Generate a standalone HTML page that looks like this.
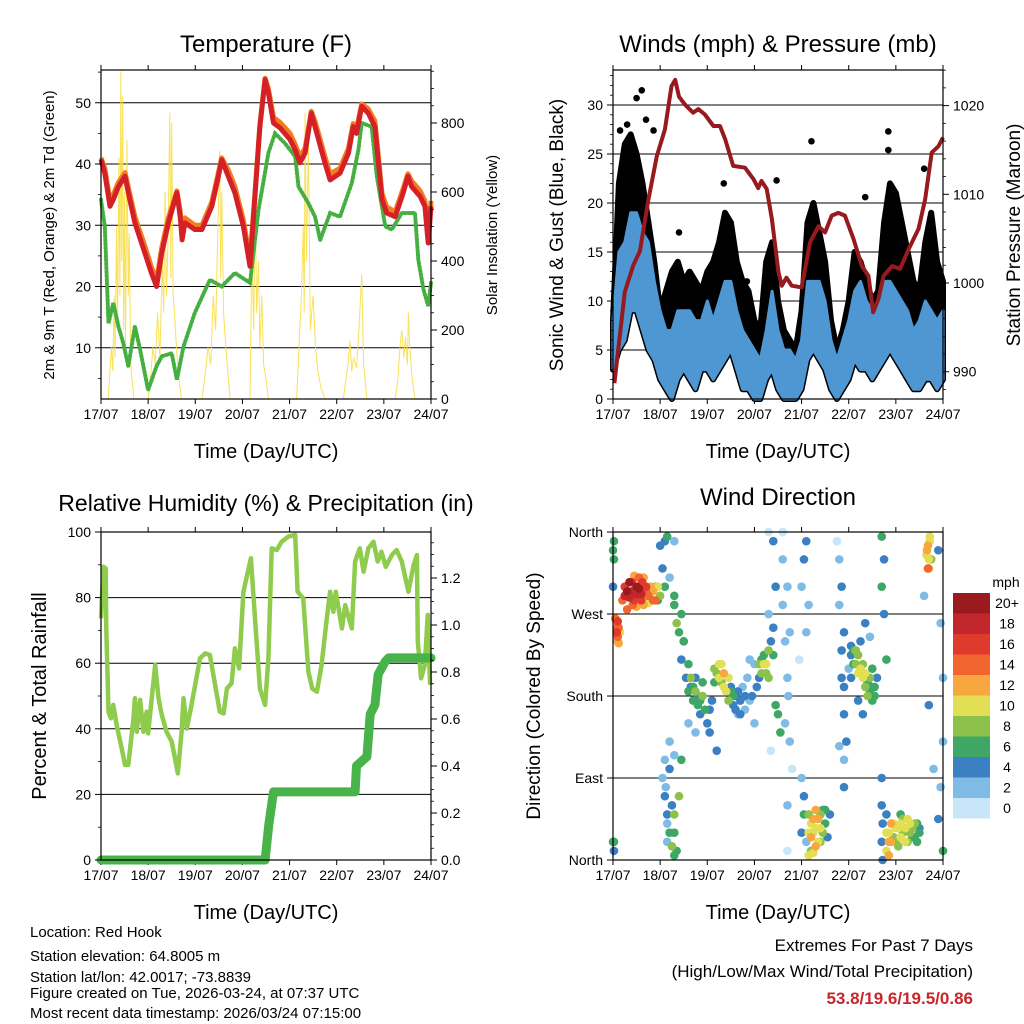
<!DOCTYPE html>
<html><head><meta charset="utf-8"><style>
html,body{margin:0;padding:0;background:#fff;}
svg{display:block;font-family:"Liberation Sans",sans-serif;}
</style></head><body>
<svg id="root" width="1024" height="1024" viewBox="0 0 1024 1024" xmlns="http://www.w3.org/2000/svg">
<rect x="0" y="0" width="1024" height="1024" fill="#fff"/>
<g id="g1"></g>
<g id="g2"></g>
<g id="g3"></g>
<g id="g4"></g>
<g id="info">
<text x="30" y="937" font-size="15">Location: Red Hook</text>
<text x="30" y="961" font-size="15">Station elevation: 64.8005 m</text>
<text x="30" y="982" font-size="15">Station lat/lon: 42.0017; -73.8839</text>
<text x="30" y="998" font-size="15">Figure created on Tue, 2026-03-24, at 07:37 UTC</text>
<text x="30" y="1018" font-size="15">Most recent data timestamp: 2026/03/24 07:15:00</text>
</g>
<g id="extremes">
<text x="973" y="951" font-size="17" text-anchor="end">Extremes For Past 7 Days</text>
<text x="973" y="977" font-size="17" text-anchor="end">(High/Low/Max Wind/Total Precipitation)</text>
<text x="973" y="1004" font-size="17" font-weight="bold" fill="#c9252b" text-anchor="end">53.8/19.6/19.5/0.86</text>
</g>
</svg>
<script>
// ---------- data ----------
const dayLabels = ["17/07","18/07","19/07","20/07","21/07","22/07","23/07","24/07"];
const tempT = [0,.08,.19,.26,.37,.51,.58,.72,.93,1.07,1.18,1.29,1.43,1.61,1.68,1.72,1.78,1.99,2.14,2.35,2.49,2.56,2.7,2.84,3.02,3.16,3.27,3.37,3.48,3.55,3.66,3.8,4.01,4.12,4.22,4.33,4.46,4.54,4.75,4.86,5.07,5.25,5.35,5.42,5.53,5.67,5.81,5.96,6.06,6.24,6.41,6.51,6.59,6.77,6.87,6.94,7];
const temp2m = [40.7,38.5,33.1,34.2,36.3,38,35.3,30.4,25.5,22.2,20,25.5,30.4,35.3,31.4,27.6,30.4,29.3,29.3,33.1,38,40.7,38,35.3,29.8,23.3,35.3,46.1,53.8,51.6,46.7,45.9,44,42.3,40.2,41.8,48.3,46.1,40.2,37.4,38.5,41.8,46.1,45,49.4,48.3,46.1,34.2,32,31.4,35.3,38,36.3,34.7,33.1,27.1,33.1];
const temp9m = [41,39.3,34,35,37,38.6,36.2,31.4,26.6,23.2,21,26.4,31.2,35.6,32.4,28.6,31.2,30,30,33.8,38.6,41,39,36.3,30.8,24.3,35.8,46.5,54,52.3,47.6,46.8,45,43.2,41.2,42.6,48.6,47,41.2,38.4,39.3,42.6,46.6,45.8,49.8,49,47,35.2,33,32.2,36,38.4,37.2,35.6,34,28.2,34];
const tdT = [0,.08,.16,.26,.37,.47,.58,.72,.83,1,1.18,1.29,1.5,1.61,1.75,1.99,2.31,2.56,2.84,3.16,3.34,3.55,3.69,3.9,4.12,4.19,4.4,4.54,4.65,4.86,5.07,5.32,5.46,5.53,5.74,5.85,6.03,6.17,6.38,6.66,6.73,6.84,6.94,7];
const tdV = [34.2,29.8,14,17.3,13.5,10.8,7,13.5,9.7,3.1,7,8.6,9.1,4.8,10.2,15.7,21.1,20,22.2,20.6,32.5,41.8,45,43.4,41.2,36.3,33.6,31.4,27.6,32,31.4,36.9,42.3,46.7,46.1,38,29.8,29.3,32,32,24.4,19.5,16.8,20.6];
const solT = [0,.15,.18,.22,.25,.28,.3,.33,.35,.38,.4,.42,.44,.46,.48,.5,.52,.55,.58,.6,.63,.67,.7,
 1.0,1.05,1.1,1.15,1.2,1.25,1.3,1.33,1.36,1.39,1.42,1.46,1.48,1.5,1.53,1.56,1.6,1.65,1.71,
 2.14,2.2,2.27,2.33,2.38,2.43,2.48,2.52,2.54,2.56,2.6,2.65,2.7,2.74,
 3.16,3.2,3.24,3.27,3.3,3.34,3.37,3.41,3.45,3.5,3.55,
 4.15,4.2,4.25,4.29,4.31,4.33,4.36,4.4,4.44,4.5,4.55,4.6,4.67,4.75,
 5.14,5.2,5.24,5.28,5.32,5.36,5.42,5.47,5.53,5.57,5.64,
 6.24,6.3,6.34,6.38,6.42,6.46,6.5,6.52,6.55,6.6,6.66,7];
const solV = [0,0,60,150,80,300,120,500,200,700,300,950,400,880,200,600,150,750,300,480,100,40,0,
 0,60,150,100,250,120,400,250,600,300,450,830,350,800,300,250,150,60,0,
 0,60,150,100,300,200,500,720,350,600,250,150,60,0,
 0,450,200,600,250,400,150,300,100,60,0,
 0,150,300,500,250,830,400,750,200,300,150,80,30,0,
 0,60,100,170,80,120,90,200,360,100,0,
 0,60,150,200,120,180,100,250,150,60,0,0];
const windT = [0,.125,.25,.375,.5,.625,.75,.875,1,1.125,1.25,1.375,1.5,1.625,1.75,1.875,2,2.125,2.25,2.375,2.5,2.625,2.75,2.875,3,3.125,3.25,3.375,3.5,3.625,3.75,3.875,4,4.125,4.25,4.375,4.5,4.625,4.75,4.875,5,5.125,5.25,5.375,5.5,5.625,5.75,5.875,6,6.125,6.25,6.375,6.5,6.625,6.75,6.875,7];
const sonicLow = [3,5,6,9,9,7,5,4,2,1,0,2,3,2,1,3,3,2,3,4,5,3,1,1,0,0,2,3,1,0,0,0,1,4,5,4,3,1,0,1,2,4,3,3,2,3,4,5,4,3,2,1,1,2,2,1,2];
const sonicHigh = [8,15,16,19,19,17,16,12,9,7,7,9,9,9,8,8,10,8,10,12,12,9,7,6,5,4,7,11,7,5,5,4,6,12,12,12,10,6,4,6,8,11,12,10,9,10,12,12,11,10,9,7,8,10,9,8,9];
const gustHigh = [8,22,26,27,25,22,18,14,9,11,13,14,12,13,12,11,13,14,16,19,18,14,12,11,8,7,14,16,10,7,6,5,9,18,20,17,14,8,5,7,10,15,14,12,10,11,18,22,21,18,15,12,11,16,19,14,12];
const gustOutT = [.61,.5,.15,.86,4.21,5.84,5.84,3.47,5.35,1.4,2.84,.3,.7,2.35,6.6];
const gustOutV = [31.5,30.7,27.4,27.4,26.3,27.3,25.4,22.3,20.6,17,12,28,28.5,22,23.5];
const presT = [.03,.25,.43,.57,.75,.93,1.1,1.24,1.32,1.4,1.53,1.7,1.81,1.95,2.13,2.27,2.38,2.55,2.8,2.98,3.08,3.15,3.26,3.37,3.51,3.58,3.68,3.79,4,4.18,4.36,4.5,4.64,4.78,4.92,5.1,5.28,5.42,5.52,5.63,5.74,5.92,6.09,6.27,6.48,6.62,6.76,6.9,7];
const presV = [988.7,999,1002,1003.6,1009.4,1014.3,1017.3,1022.2,1022.9,1021,1020.1,1019.2,1019.6,1019,1017.7,1017.7,1016.2,1013.2,1013,1011.7,1010.7,1011.5,1010.6,1007.2,1001.2,999.7,1000.6,999.7,999.5,1004.6,1006.4,1005.7,1007.6,1007.9,1007.6,1005,1001.9,1000.8,996.7,998.2,1000.8,1001.9,1001.6,1003.8,1006.1,1009.4,1014.7,1015.4,1016.4];
const rhT = [0,.05,.1,.11,.16,.21,.26,.33,.44,.51,.58,.69,.72,.76,.83,.9,.97,1,1.07,1.15,1.22,1.29,1.39,1.5,1.57,1.63,1.71,1.75,1.82,1.92,2.1,2.21,2.31,2.42,2.52,2.6,2.67,2.77,2.84,2.93,3.02,3.13,3.18,3.27,3.37,3.48,3.55,3.62,3.73,3.83,3.97,4.12,4.17,4.29,4.4,4.48,4.58,4.68,4.79,4.86,4.93,4.98,5.11,5.18,5.32,5.39,5.49,5.57,5.67,5.78,5.87,5.95,6.04,6.17,6.27,6.38,6.52,6.63,6.7,6.72,6.79,6.87,6.93,6.98];
const rhV = [73.7,89.4,88.9,71.6,45.2,43.2,47.3,41.2,34,29,29,43.2,49.3,39.1,48.8,39.1,45.2,38.6,48.3,59.5,49.3,44.2,39.1,36.1,31,26.4,39.1,49.3,40.1,47.3,61.5,63,62.5,53.4,45.2,44.7,52.3,53.9,64.5,58.4,81.8,88.9,92,72.7,52.3,47.3,61.5,95,94.5,97,98.6,99.1,81.8,79.8,57.4,52.3,51.3,59.5,73.7,81.8,75.7,81.8,70.6,77.7,70.6,91,95,87.9,95,97,91,94,89.4,93,94.5,91,81.8,89.9,93,66.6,55.4,59.5,74.7,53.4];
const prT = [0,3.48,3.56,3.66,5.39,5.42,5.64,5.71,5.81,5.88,6.03,6.1,7];
const prV = [0,0,.15,.29,.29,.4,.44,.62,.66,.79,.845,.86,.86];
const dirT = [.25,.3,.35,.4,.45,.5,.55,.6,.65,.7,.75,.85,.9,.95,1,.3,.5,.2,.45,.62,
 .08,.1,.12,.15,.05,.1, 0,0,.02,.02,.02,
 1,1.05,1.1,1.1,1.15,1.2,1.3,1.3,1.45,1.5,1.1,1.12,1.15,1.2,1.25,1.3,1.35,1.4,1.45,1.2,1.15,1.3,
 1.55,1.6,1.65,1.7,1.75,1.8,1.85,1.9,1.95,2,2.05,2.1,2.15,2.2,2.25,2.3,2.35,2.4,2.45,2.5,2.55,2.6,2.65,2.7,2.75,2.8,2.85,2.9,2.95,3,3.05,3.1,3.15,3.2,3.25,3.3,3.35,3.4,3.45,3.5,3.55,3,2.2,1.6,1.75,
 3.6,3.6,3.65,3.7,3.72,3.75,3.8,3.7,3.7,3.4,3.45,3.3,3.3,3.35,
 4.1,4.15,4.2,4.25,4.3,4.35,4.4,4.45,4.5,4.55,4.6,4.2,4.3,4.4,4.05,4,4.05,4.1,4.15,3.95,4.1,
 4.75,4.8,4.85,4.9,4.85,4.9,4.9,4.95,4.9,
 5,5.05,5.1,5.15,5.2,5.25,5.3,5.35,5.4,5.45,5.5,5.55,5.6,5.25,5.35,5.45,5.2,5.3,
 5.7,5.72,5.7,5.72,5.7,5.75,5.7,
 5.8,5.85,5.9,5.95,6,6.05,6.1,6.15,6.2,6.25,6.3,6.35,6.4,6.45,6.5,5.85,6.1,
 6.65,6.68,6.7,6.72,6.75,6.6,6.7,6.8,6.9,6.95,7,7,6.95,6.9,7,
 .3,.35,.4,.5,.55,.6,.7,.8,.85,.42,.25,.65,.75,.9,.95,.08,.12,.1,
 1.6,1.65,1.7,1.75,1.8,1.85,1.9,2.05,2.15,2.25,2.3,2.35,2.45,2.5,2.55,2.6,2.65,2.7,2.8,2.9,3.1,3.15,3.2,3.25,3.3,3.4,1.5,1.45,1.4,1.35,1.3,
 1.05,1.1,1.15,1.2,1.25,1.3,1.3,
 4.15,4.2,4.25,4.3,4.35,4.4,4.45,4.15,4.25,4.5,4.05,4,4,
 5.1,5.15,5.2,5.3,5.35,5.4,5.45,5.5,5.55,5.05,5.05,5.5,
 5.85,5.9,5.95,6,6.05,6.1,6.15,6.2,6.25,6.3,6.35,6.4,6.45,6.5,5.8,5.8,
 6.66,6.7,6.68,6.72,
 3.75,3.7,3.65,4.8,4.85,4.9,4.8,5.7,5.75,5.8,3.6,.02,0];
const dirDeg = [300,290,305,295,285,300,310,292,280,300,290,295,285,300,290,275,278,285,312,305,
 255,245,238,250,265,262, 340,300,20,10,330,
 345,320,350,300,355,310,290,350,270,240,110,80,40,100,60,30,10,70,110,130,20,115,
 200,215,190,175,200,170,160,180,165,150,140,175,195,205,215,195,205,185,175,190,170,180,160,175,190,165,200,220,180,150,190,200,220,215,205,230,240,255,170,160,140,215,120,150,140,
 330,280,240,200,180,130,100,60,10,350,300,360,270,120,
 20,50,40,30,15,45,35,55,40,25,50,10,55,20,70,300,330,350,280,220,250,
 350,330,300,250,200,160,110,130,80,
 210,225,230,215,225,210,200,190,195,185,175,190,200,240,260,245,175,160,
 60,40,20,0,300,330,355,
 30,20,40,25,35,15,40,30,20,45,30,25,40,20,35,5,50,
 335,345,320,350,330,290,170,100,340,260,200,130,80,45,10,
 295,288,305,292,298,285,295,300,285,280,290,310,282,300,285,250,255,240,
 185,200,190,185,180,175,195,165,210,200,215,190,200,185,180,165,185,160,180,175,215,205,225,215,200,225,240,220,250,260,280,
 90,70,50,30,15,50,5,
 30,25,45,35,20,50,30,5,8,55,50,30,90,
 215,230,205,215,205,180,200,190,180,200,235,210,
 30,20,40,20,35,25,45,35,20,40,35,25,40,30,10,50,
 340,330,320,355,
 250,300,150,280,230,190,125,90,270,220,360,350,20];
const dirSpd = [16,18,20,18,16,20,14,18,12,16,14,12,14,10,8,14,12,14,12,16,
 14,14,12,10,14,16, 6,4,6,4,6,
 4,4,4,6,6,2,6,2,6,6,2,2,2,4,4,6,6,8,6,2,2,2,
 4,6,4,6,4,6,4,8,6,4,4,4,6,8,10,8,12,10,8,4,4,4,2,4,2,2,2,2,4,2,4,4,6,10,8,8,4,4,6,6,6,2,4,2,2,
 2,2,2,2,2,2,0,2,0,4,4,0,2,0,
 2,8,10,10,12,12,10,6,6,4,4,8,12,8,4,2,4,4,2,0,2,
 0,2,4,4,4,4,2,4,4,
 2,4,6,8,8,10,10,8,6,6,6,6,4,4,4,2,4,4,
 4,4,4,4,6,4,6,
 10,12,12,8,10,8,10,8,10,10,8,6,8,6,4,12,6,
 10,12,12,10,8,2,4,2,4,2,2,2,2,4,6,
 20,18,16,18,20,16,14,12,14,14,18,12,10,8,6,16,14,12,
 6,8,6,8,4,6,6,4,8,10,10,10,10,6,6,4,4,4,4,2,8,8,6,10,8,6,4,4,6,8,6,
 2,4,4,6,8,8,6,
 10,12,12,10,10,8,8,10,10,6,6,4,2,
 6,8,10,8,10,8,8,6,6,4,4,6,
 10,12,10,8,10,10,8,10,8,10,8,6,6,6,10,4,
 12,10,14,10,
 2,2,2,2,4,4,2,4,4,6,0,6,6];
const legendLabels = ["20+","18","16","14","12","10","8","6","4","2","0"];
const legendColors = ["#9b1a1e","#c2272d","#e03a2d","#f0662e","#f7a640","#e3df55","#8cc24b","#3fa766","#3b80c2","#80bbe6","#c8e6f7"];

// ---------- helpers ----------
const NS = "http://www.w3.org/2000/svg";
function mk(tag, attrs, parent){const e=document.createElementNS(NS,tag);for(const k in attrs)e.setAttribute(k,attrs[k]);parent.appendChild(e);return e;}
function txt(parent,x,y,s,size,anchor,extra){const t=mk('text',Object.assign({x:x,y:y,'font-size':size,'text-anchor':anchor||'start'},extra||{}),parent);t.textContent=s;return t;}
function poly(xs,ys){return xs.map((v,i)=>v.toFixed(1)+','+ys[i].toFixed(1)).join(' ');}
function spdColor(s){let i=Math.round(s/2);if(i>10)i=10;if(i<0)i=0;return legendColors[10-i];}

function frame(g,x0,y0,x1,y1,prefix){
  const xs=d=>x0+d*(x1-x0)/7;
  for(let i=0;i<8;i++){
    const t1=mk('line',{x1:xs(i),y1:y1,x2:xs(i),y2:y1+5,stroke:'#000','stroke-width':1},g);
    
    
    const t2=mk('line',{x1:xs(i),y1:y0,x2:xs(i),y2:y0-5,stroke:'#000','stroke-width':1},g);
    
    
    const l=txt(g,xs(i),y1+20,dayLabels[i],14,'middle');
    
    
  }
  const xl=txt(g,(x0+x1)/2,y1+59,'Time (Day/UTC)',20,'middle');
  
  
  return xs;
}
function border(g,x0,y0,x1,y1){
  const b=mk('rect',{x:x0,y:y0,width:x1-x0,height:y1-y0,fill:'none',stroke:'#000','stroke-width':1.2},g);
  
  
}
function yTicks(g,side,x,vals,yf,labels,minorVals){
  const dir=side==='left'?-1:1;
  vals.forEach((v,i)=>{
    const t=mk('line',{x1:x,y1:yf(v),x2:x+dir*6,y2:yf(v),stroke:'#000','stroke-width':1},g);
    
    
    const l=txt(g,x+dir*10,yf(v)+5,labels[i],14,side==='left'?'end':'start');
    
    
  });
  (minorVals||[]).forEach(v=>{
    const t=mk('line',{x1:x,y1:yf(v),x2:x+dir*3,y2:yf(v),stroke:'#000','stroke-width':0.8},g);
    
    
  });
}
function hGrid(g,x0,x1,vals,yf){
  vals.forEach(v=>{
    const l=mk('line',{x1:x0,y1:yf(v),x2:x1,y2:yf(v),stroke:'#000','stroke-width':1},g);
    
    
  });
}
function range(a,b,s){const r=[];for(let v=a;v<=b+1e-9;v+=s)r.push(+v.toFixed(4));return r;}

// ---------- Panel 1 ----------
(function(){
  const g=document.getElementById('g1');
  const x0=101,x1=431,y0=70,y1=399;
  const yT=v=>409-v*6.125, yS=v=>399-v*0.345;
  const xs=frame(g,x0,y0,x1,y1,'temperature');
  const t=txt(g,266,52,'Temperature (F)',24,'middle');
  
  
  hGrid(g,x0,x1,[10,20,30,40,50],yT);
  const sol=mk('polyline',{points:poly(solT.map(xs),solV.map(yS)),fill:'none',stroke:'#f8dc3c','stroke-width':1,'stroke-opacity':0.85},g);
  
  
  const td=mk('polyline',{points:poly(tdT.map(xs),tdV.map(yT)),fill:'none',stroke:'#45b041','stroke-width':4,'stroke-dasharray':'1.5,2.5','stroke-linecap':'round'},g);
  
  
  const o=mk('polyline',{points:poly(tempT.map(xs),temp9m.map(yT)),fill:'none',stroke:'#f47b20','stroke-width':5,'stroke-linejoin':'round'},g);
  
  
  const r=mk('polyline',{points:poly(tempT.map(xs),temp2m.map(yT)),fill:'none',stroke:'#d42027','stroke-width':5,'stroke-linejoin':'round'},g);
  
  
  border(g,x0,y0,x1,y1);
  yTicks(g,'left',x0,[10,20,30,40,50],yT,['10','20','30','40','50'],[5,15,25,35,45,55]);
  yTicks(g,'right',x1,[0,200,400,600,800],yS,['0','200','400','600','800'],range(50,950,50));
  const yl=txt(g,0,0,'2m & 9m T (Red, Orange) & 2m Td (Green)',15,'middle',{transform:'translate(54,235) rotate(-90)'});
  
  
  const yr=txt(g,0,0,'Solar Insolation (Yellow)',15,'middle',{transform:'translate(497,235) rotate(-90)'});
  
  
})();

// ---------- Panel 2 ----------
(function(){
  const g=document.getElementById('g2');
  const x0=613,x1=943,y0=70,y1=399;
  const yW=v=>399-v*9.8, yP=p=>283-(p-1000)*8.87;
  const xs=frame(g,x0,y0,x1,y1,'winds');
  const t=txt(g,778,52,'Winds (mph) & Pressure (mb)',24,'middle');
  
  
  hGrid(g,x0,x1,[5,10,15,20,25,30],yW);
  const gx=windT.map(xs);
  const gp=poly(gx,gustHigh.map(yW))+' '+poly(gx.slice().reverse(),sonicLow.slice().reverse().map(yW));
  const gust=mk('polygon',{points:gp,fill:'#000',stroke:'#000','stroke-width':6,'stroke-linejoin':'round'},g);
  
  
  gustOutT.forEach((d,i)=>{
    const c=mk('circle',{cx:xs(d),cy:yW(gustOutV[i]),r:3.3,fill:'#000'},g);
    
    
  });
  const bp=poly(gx,sonicHigh.map(yW))+' '+poly(gx.slice().reverse(),sonicLow.slice().reverse().map(yW));
  const blue=mk('polygon',{points:bp,fill:'#4f97d3',stroke:'#4f97d3','stroke-width':3,'stroke-linejoin':'round'},g);
  
  
  const p=mk('polyline',{points:poly(presT.map(xs),presV.map(yP)),fill:'none',stroke:'#971a1e','stroke-width':4,'stroke-linejoin':'round'},g);
  
  
  border(g,x0,y0,x1,y1);
  yTicks(g,'left',x0,[0,5,10,15,20,25,30],yW,['0','5','10','15','20','25','30'],range(1,33,1).filter(v=>v%5));
  yTicks(g,'right',x1,[990,1000,1010,1020],yP,['990','1000','1010','1020'],range(988,1024,2).filter(v=>v%10));
  const yl=txt(g,0,0,'Sonic Wind & Gust (Blue, Black)',19,'middle',{transform:'translate(563,235) rotate(-90)'});
  
  
  const yr=txt(g,0,0,'Station Pressure (Maroon)',19,'middle',{transform:'translate(1020,235) rotate(-90)'});
  
  
})();

// ---------- Panel 3 ----------
(function(){
  const g=document.getElementById('g3');
  const x0=101,x1=431,y0=532,y1=860;
  const yR=v=>860-v*3.28, yPr=v=>860-v*235;
  const xs=frame(g,x0,y0,x1,y1,'humidity');
  const t=txt(g,266,511,'Relative Humidity (%) & Precipitation (in)',23,'middle');
  
  
  hGrid(g,x0,x1,[20,40,60,80],yR);
  const rh=mk('polyline',{points:poly(rhT.map(xs),rhV.map(yR)),fill:'none',stroke:'#8fcb4c','stroke-width':4.5,'stroke-linejoin':'round'},g);
  
  
  const pr=mk('polyline',{points:poly(prT.map(xs),prV.map(yPr)),fill:'none',stroke:'#47b348','stroke-width':9,'stroke-linejoin':'round','stroke-linecap':'round'},g);
  
  
  border(g,x0,y0,x1,y1);
  yTicks(g,'left',x0,[0,20,40,60,80,100],yR,['0','20','40','60','80','100'],[10,30,50,70,90]);
  yTicks(g,'right',x1,[0,.2,.4,.6,.8,1,1.2],yPr,['0.0','0.2','0.4','0.6','0.8','1.0','1.2'],range(.05,1.35,.05).filter(v=>Math.round(v*100)%20));
  const yl=txt(g,0,0,'Percent & Total Rainfall',20,'middle',{transform:'translate(46,696) rotate(-90)'});
  
  
})();

// ---------- Panel 4 ----------
(function(){
  const g=document.getElementById('g4');
  const x0=613,x1=943,y0=532,y1=860;
  const yD=d=>860-d*0.911;
  const xs=frame(g,x0,y0,x1,y1,'direction');
  const t=txt(g,778,505,'Wind Direction',24,'middle');
  
  
  hGrid(g,x0,x1,[90,180,270],yD);
  const order=dirT.map((d,i)=>i).sort((a,b)=>dirSpd[a]-dirSpd[b]);
  order.forEach(i=>{
    const c=mk('circle',{cx:xs(dirT[i]),cy:yD(dirDeg[i]),r:4.3,fill:spdColor(dirSpd[i])},g);
    
    
  });
  border(g,x0,y0,x1,y1);
  yTicks(g,'left',x0,[0,90,180,270,360],yD,['North','East','South','West','North'],[]);
  const yl=txt(g,0,0,'Direction (Colored By Speed)',19,'middle',{transform:'translate(540,696) rotate(-90)'});
  
  
  const lt=txt(g,1006,587,'mph',14,'middle');
  
  
  legendLabels.forEach((s,i)=>{
    const y=593+i*20.5;
    const r=mk('rect',{x:953,y:y,width:37,height:20.5,fill:legendColors[i]},g);
    
    
    const l=txt(g,1007,y+15,s,14,'middle');
    
    
  });
})();
</script>
</body></html>
